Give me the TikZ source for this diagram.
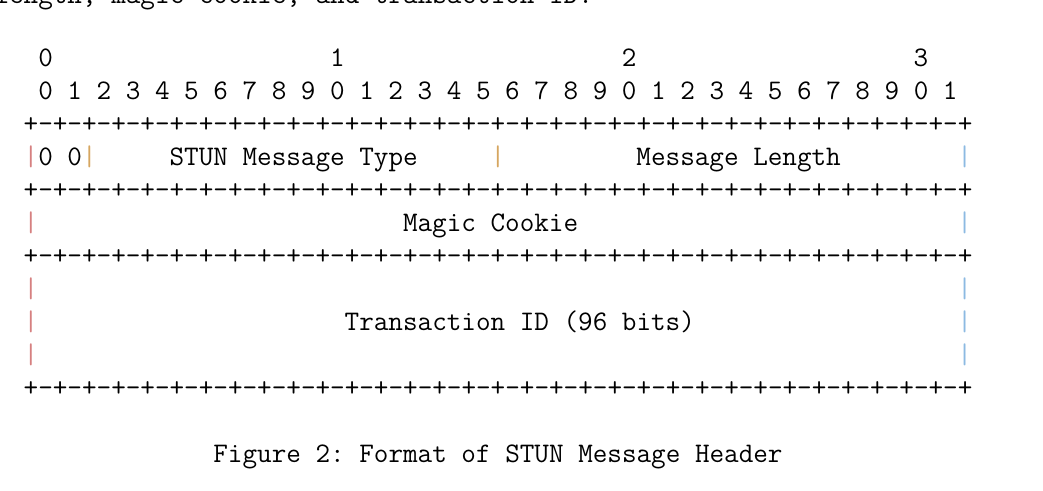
\documentclass[tikz,border=0pt]{standalone}
\frenchspacing
\definecolor{barL}{RGB}{214,128,128}
\definecolor{barM}{RGB}{214,166,96}
\definecolor{barR}{RGB}{140,186,226}
\tikzset{
  txt/.style={font=\ttfamily\fontsize{28.34}{33}\selectfont, anchor=base west, inner sep=0pt, outer sep=0pt, text=black},
  barl/.style={txt, text=barL},
  barm/.style={txt, text=barM},
  barr/.style={txt, text=barR}
}
\def\sepq{+-+-+-+-+-+-+-+-}
\def\seprow{\sepq\sepq\sepq\sepq+}
\begin{document}
\begin{tikzpicture}[x=1pt,y=-1pt]
\useasboundingbox (0,0) rectangle (1043,490);
\fill[white] (0,0) rectangle (1043,490);
\clip (0,0) rectangle (1043,490);
% clipped prose line above the figure
\node[txt] (intro) at (-5.48,3) {length, magic cookie, and transaction ID.};
% bit numbering
\node[txt] (ten0) at (38.29,66) {0};
\node[txt] (ten1) at (330.09,66) {1};
\node[txt] (ten2) at (621.89,66) {2};
\node[txt] (ten3) at (913.69,66) {3};
\node[txt] (bits) at (38.29,99) {0 1 2 3 4 5 6 7 8 9 0 1 2 3 4 5 6 7 8 9 0 1 2 3 4 5 6 7 8 9 0 1};
% separator rows
\node[txt] (sep1) at (23.7,132) {\seprow};
\node[txt] (sep2) at (23.7,198) {\seprow};
\node[txt] (sep3) at (23.7,264) {\seprow};
\node[txt] (sep4) at (23.7,396) {\seprow};
% row 1: 0 0 | STUN Message Type | Message Length
\node[barl] (r1l) at (23.7,165) {|};
\node[txt] (zz) at (38.29,165) {0 0};
\node[barm] (r1a) at (82.06,165) {|};
\node[txt] (type) at (169.6,165) {STUN Message Type};
\node[barm] (r1m) at (490.58,165) {|};
\node[txt] (len) at (636.48,165) {Message Length};
\node[barr] (r1r) at (957.46,165) {|};
% row 2: Magic Cookie
\node[barl] (r2l) at (23.7,231) {|};
\node[txt] (cookie) at (403.04,231) {Magic Cookie};
\node[barr] (r2r) at (957.46,231) {|};
% rows 3-5: Transaction ID
\node[barl] (r3l) at (23.7,297) {|};
\node[barr] (r3r) at (957.46,297) {|};
\node[barl] (r4l) at (23.7,330) {|};
\node[txt] (tid) at (344.68,330) {Transaction ID (96 bits)};
\node[barr] (r4r) at (957.46,330) {|};
\node[barl] (r5l) at (23.7,363) {|};
\node[barr] (r5r) at (957.46,363) {|};
% caption
\node[txt] (cap) at (213.37,462) {Figure 2: Format of STUN Message Header};
\end{tikzpicture}
\end{document}
